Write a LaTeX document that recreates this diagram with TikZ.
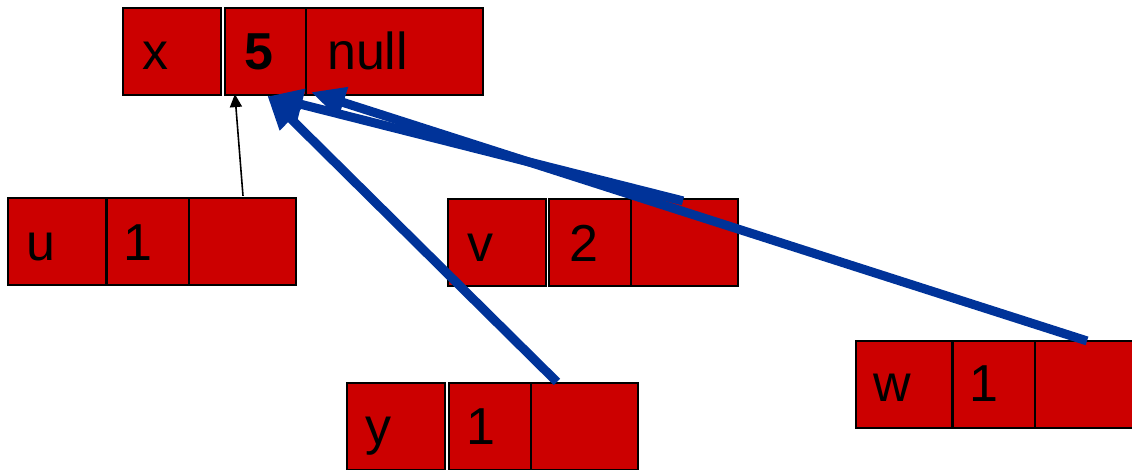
\documentclass[tikz,border=0pt]{standalone}
\usepackage{fontspec}
\setmainfont{Liberation Sans}
\usetikzlibrary{arrows.meta,calc}
\definecolor{cellred}{HTML}{CC0000}
\definecolor{ptrblue}{HTML}{003399}
\begin{document}
\begin{tikzpicture}[x=1pt,y=-1pt,
  cell/.style={draw=black, fill=cellred, line width=2.2pt, inner sep=0pt, minimum height=87pt},
  val/.style={inner sep=0pt, anchor=base, font=\fontsize{52}{60}\selectfont},
  ptr/.style={draw=ptrblue, line width=9pt, -{Triangle[length=34pt,width=30pt]}},
  thinptr/.style={draw=black, line width=1.6pt, -{Triangle[length=13pt,width=12pt]}}]
\useasboundingbox (0,0) rectangle (1132,469);
\clip (0,0) rectangle (1132,469);

% cell x: name, value 5, next = null
\node[cell, minimum width=98pt]  (xl) at (172,51.5)   {};
\node[cell, minimum width=81pt]  (x5) at (265.5,51.5) {};
\node[cell, minimum width=177pt] (xn) at (394.5,51.5) {};
\node[val] (xlt) at ($(xl.south west)+(34,-27)$) {x};
\node[val] (x5t) at ($(x5.south west)+(35,-27)$) {\bfseries 5};
\node[val, anchor=base west] (xnt) at ($(xn.south west)+(22,-27)$) {null};

% cell u
\node[cell, minimum width=98pt]  (ul) at (57,241.5)    {};
\node[cell, minimum width=82pt]  (u1) at (148,241.5)   {};
\node[cell, minimum width=107pt] (up) at (242.5,241.5) {};
\node[val] (ult) at ($(ul.south west)+(34,-26)$) {u};
\node[val] (u1t) at ($(u1.south west)+(32,-26)$) {1};

% cell v
\node[cell, minimum width=98pt]  (vl) at (497,242.5)   {};
\node[cell, minimum width=82pt]  (v2) at (590,242.5)   {};
\node[cell, minimum width=107pt] (vp) at (684.5,242.5) {};
\node[val] (vlt) at ($(vl.south west)+(34,-26)$) {v};
\node[val] (v2t) at ($(v2.south west)+(36,-26)$) {2};

% cell y
\node[cell, minimum width=98pt]  (yl) at (396,426.5)   {};
\node[cell, minimum width=82pt]  (y1) at (490,426.5)   {};
\node[cell, minimum width=107pt] (yp) at (584.5,426.5) {};
\node[val] (ylt) at ($(yl.south west)+(33,-27)$) {y};
\node[val] (y1t) at ($(y1.south west)+(33,-27)$) {1};

% cell w
\node[cell, minimum width=96pt]  (wl) at (904,384.5)    {};
\node[cell, minimum width=82pt]  (w1) at (994,384.5)    {};
\node[cell, minimum width=107pt] (wp) at (1088.5,384.5) {};
\node[val] (wlt) at ($(wl.south west)+(37,-28)$) {w};
\node[val] (w1t) at ($(w1.south west)+(32,-28)$) {1};

% pointer ends
\coordinate (ustart) at ($(up.north)+(0.5,-1)$);
\coordinate (utip)   at ($(x5.south west)+(11,-2)$);
\coordinate (ystart) at ($(yp.north west)+(27,0)$);
\coordinate (ytip)   at ($(x5.south)+(1.5,-1)$);
\coordinate (vstart) at ($(vp.north)+(-1.5,3)$);
\coordinate (vtip)   at ($(x5.south)+(3,0)$);
\coordinate (wstart) at ($(wp.north)+(-1.5,1)$);
\coordinate (wtip)   at ($(xn.south west)+(6,-4)$);

% pointers
\draw[thinptr] (ustart) -- (utip);
\draw[ptr] (ystart) -- (ytip);
\draw[ptr] (vstart) -- (vtip);
\draw[ptr] (wstart) -- (wtip);
\end{tikzpicture}
\end{document}
